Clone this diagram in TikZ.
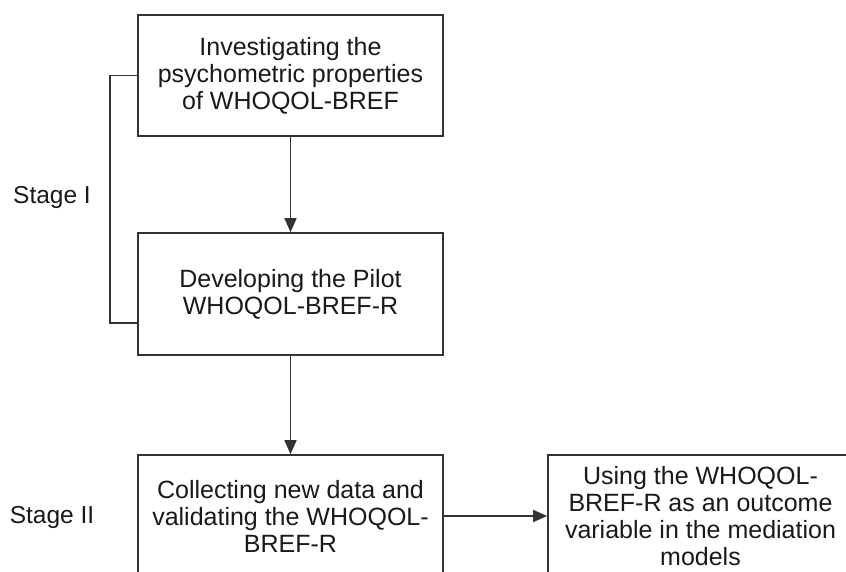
\documentclass[tikz,border=0pt]{standalone}
\usepackage{fontspec}
\setmainfont{Liberation Sans}
\usetikzlibrary{arrows.meta,calc}
\definecolor{ln}{HTML}{333333}
\definecolor{tx}{HTML}{1A1A1A}
\begin{document}
\begin{tikzpicture}[x=1pt,y=-1pt,
  box/.style={draw=ln,line width=1.7pt,minimum width=305pt,inner sep=0pt,align=center,text=tx,
    font=\fontsize{25}{27}\selectfont},
  lbl/.style={text=tx,font=\fontsize{24.5}{27}\selectfont,inner sep=0pt},
  conn/.style={draw=ln,line width=1.7pt},
  arr/.style={conn,-{Triangle[length=14pt,width=12pt]}}]
\useasboundingbox (0,0) rectangle (846,571);
\clip (0,0) rectangle (846,571);
\fill[white] (0,0) rectangle (846,571);
\node[box,minimum height=121pt] (b1) at (290.5,75.5) {Investigating the\\psychometric properties\\of WHOQOL-BREF};
\node[box,minimum height=122pt] (b2) at (290.5,294) {Developing the Pilot\\WHOQOL-BREF-R};
\node[box,minimum height=122pt] (b3) at (290.5,516) {Collecting new data and\\validating the WHOQOL-\\BREF-R};
\node[box,minimum height=122pt] (b4) at (700.5,516) {Using the WHOQOL-\\BREF-R as an outcome\\variable in the mediation\\models};
\node[lbl] (s1) at (52,197) {Stage I};
\node[lbl] (s2) at (52,517) {Stage II};
\coordinate (c1) at (110,75.5);
\coordinate (c2) at (110,323);
\draw[conn] (b1.west) -- (c1) -- (c2) -- (c2 -| b2.west);
\draw[arr] (b1) -- (b2);
\draw[arr] (b2) -- (b3);
\draw[arr] (b3) -- (b4);
\end{tikzpicture}
\end{document}
